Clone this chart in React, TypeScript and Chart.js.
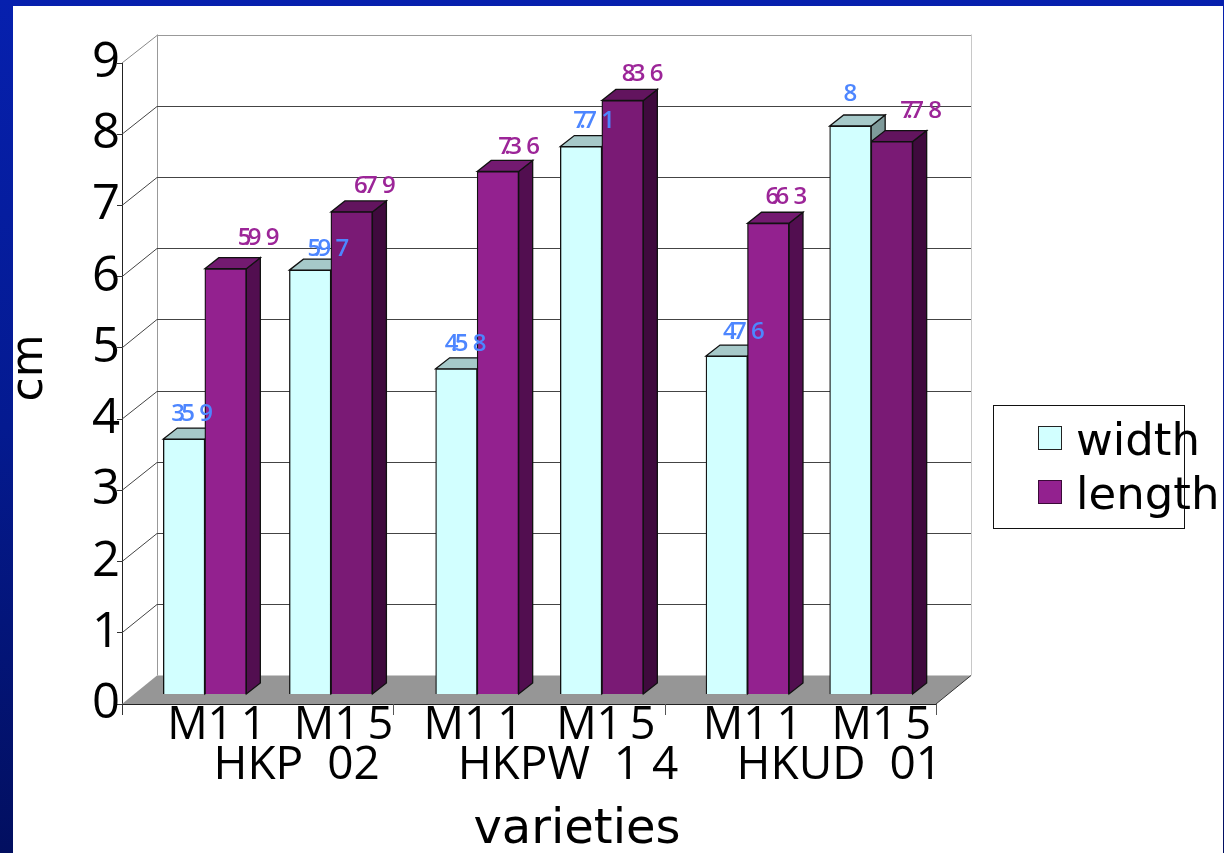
import React, { useEffect, useRef } from "react";
import { Chart, registerables } from "chart.js";

Chart.register(...registerables);

const varieties = ["M1\u20091", "M1\u20095", "M1\u20091", "M1\u20095", "M1\u20091", "M1\u20095"];
const groups = ["HKP  02", "HKPW  1 4", "HKUD  01"];
const widthValues = [3.59, 5.97, 4.58, 7.71, 4.76, 8];
const lengthValues = [5.99, 6.79, 7.36, 8.36, 6.63, 7.78];
const yTicks = [0, 1, 2, 3, 4, 5, 6, 7, 8, 9];

const FONT = '"Open Sans"';
const LOWER = '"DejaVu Sans"';
const DX = 35, DY = 28.5; // wall depth
const BDX = 14, BDY = 11; // bar depth
const barNudge = [15, 5.4, 16, 5, 15, 3];
const tickNudge = [27, 18, 12, 9, 20, 13];
const labelOff = [
  [[8, -25], [18, -21], [9, -25], [13, -25], [17, -24], [0, -32]],
  [[33, -31], [23, -26], [21, -24], [20, -26], [18, -26], [29, -30]],
];
const fronts = [
  ["#D2FFFF", "#D2FFFF", "#D2FFFF", "#D2FFFF", "#D2FFFF", "#D2FFFF"],
  ["#93218F", "#7A1A75", "#93218F", "#7A1A75", "#93218F", "#7A1A75"],
];
const tops = [
  ["#A6C9C9", "#A6C9C9", "#A6C9C9", "#A6C9C9", "#A6C9C9", "#A6C9C9"],
  ["#731A70", "#62145E", "#731A70", "#62145E", "#731A70", "#62145E"],
];
const sides = [
  ["#7E9A9A", "#7E9A9A", "#7E9A9A", "#7E9A9A", "#7E9A9A", "#7E9A9A"],
  ["#520E50", "#3F0A3D", "#520E50", "#3F0A3D", "#520E50", "#3F0A3D"],
];
const labelColors = ["#4D86FF", "#9C2598"];

function poly(ctx: CanvasRenderingContext2D, pts: number[][], fill?: string, stroke?: string) {
  ctx.beginPath();
  pts.forEach((p, i) => (i ? ctx.lineTo(p[0], p[1]) : ctx.moveTo(p[0], p[1])));
  ctx.closePath();
  if (fill) { ctx.fillStyle = fill; ctx.fill(); }
  if (stroke) { ctx.strokeStyle = stroke; ctx.lineWidth = 1.3; ctx.stroke(); }
}
function line(ctx: CanvasRenderingContext2D, x1: number, y1: number, x2: number, y2: number, c: string) {
  ctx.beginPath(); ctx.moveTo(x1, y1); ctx.lineTo(x2, y2); ctx.strokeStyle = c; ctx.lineWidth = 1; ctx.stroke();
}

const scene = {
  id: "scene",
  afterDatasetsUpdate(chart: any) {
    chart.data.datasets.forEach((_: any, d: number) => {
      chart.getDatasetMeta(d).data.forEach((bar: any, i: number) => { bar.x += barNudge[i]; });
    });
  },
  beforeDatasetsDraw(chart: any) {
    const { ctx, chartArea: a, scales } = chart;
    const y = scales.y;
    ctx.save();
    // floor
    const y0 = y.getPixelForValue(0);
    poly(ctx, [[a.left, y0], [a.left + DX, y0 - DY], [a.right + DX, y0 - DY], [a.right, y0]], "#969696");
    // back wall and grid
    const top = y.getPixelForValue(9) - DY;
    line(ctx, a.left + DX + 0.5, top, a.left + DX + 0.5, y0 - DY, "#999");
    line(ctx, a.right + DX + 0.5, top, a.right + DX + 0.5, y0 - DY, "#c8c8c8");
    yTicks.slice(1).forEach((v) => {
      const py = y.getPixelForValue(v);
      const back = Math.round(py - DY) + 0.5;
      line(ctx, a.left + DX, back, a.right + DX, back, v === 9 ? "#999" : "#444");
      line(ctx, a.left, py, a.left + DX, back, v === 9 ? "#888" : "#444");
    });
    line(ctx, a.right, y0, a.right + DX, y0 - DY, "#333");
    line(ctx, a.left, y0 + 0.5, a.right, y0 + 0.5, "#222");
    // group separators
    for (let g = 0; g <= groups.length; g++) {
      const x = Math.round(a.left + ((a.right - a.left) * g) / groups.length) + 0.5;
      line(ctx, x, y0, x, y0 + 11, g === 0 ? "#333" : "#555");
    }
    // bar depth faces
    chart.data.datasets.forEach((_: any, d: number) => {
      chart.getDatasetMeta(d).data.forEach((bar: any, i: number) => {
        const l = bar.x - bar.width / 2, r = bar.x + bar.width / 2;
        const t = bar.y, b = bar.base;
        poly(ctx, [[r, t], [r + BDX, t - BDY], [r + BDX, b - BDY], [r, b]], sides[d][i], "#111");
        poly(ctx, [[l, t], [l + BDX, t - BDY], [r + BDX, t - BDY], [r, t]], tops[d][i], "#111");
      });
    });
    ctx.restore();
  },
  afterDatasetsDraw(chart: any) {
    const { ctx } = chart;
    ctx.save();
    ctx.textBaseline = "middle";
    ctx.textAlign = "left";
    ctx.font = `600 24px ${FONT}`;
    chart.data.datasets.forEach((ds: any, d: number) => {
      ctx.fillStyle = labelColors[d];
      chart.getDatasetMeta(d).data.forEach((bar: any, i: number) => {
        const text = String(ds.data[i]);
        const x = bar.x - bar.width / 2 + labelOff[d][i][0];
        const yy = bar.y + labelOff[d][i][1];
        if (text.length === 1) {
          ctx.textAlign = "center";
          ctx.fillText(text, x + bar.width / 2, yy);
          ctx.textAlign = "left";
          return;
        }
        const offs = [0, 6, 10, 28];
        text.split("").forEach((ch, k) => ctx.fillText(ch, x + offs[k], yy));
      });
    });
    ctx.restore();

    // axis titles
    ctx.save();
    ctx.fillStyle = "#000";
    ctx.font = `48px ${LOWER}`;
    ctx.textAlign = "center";
    ctx.textBaseline = "alphabetic";
    ctx.fillText("varieties", 577, 843);
    ctx.translate(42, 368);
    ctx.rotate(-Math.PI / 2);
    ctx.font = `44px ${LOWER}`;
    ctx.fillText("cm", 0, 0);
    ctx.restore();

    // legend
    ctx.save();
    ctx.strokeStyle = "#111";
    ctx.lineWidth = 1;
    ctx.strokeRect(993.5, 405.5, 191, 123);
    const rows = [[426, 455], [480, 509]];
    ctx.font = `45px ${LOWER}`;
    ctx.textAlign = "left";
    ctx.textBaseline = "alphabetic";
    chart.data.datasets.forEach((ds: any, d: number) => {
      ctx.fillStyle = fronts[d][0];
      ctx.strokeStyle = d ? "#3a0a38" : "#222";
      ctx.fillRect(1038, rows[d][0], 23, 23);
      ctx.strokeRect(1038.5, rows[d][0] + 0.5, 23, 23);
      ctx.fillStyle = "#000";
      ctx.fillText(ds.label, 1076, rows[d][1]);
    });
    ctx.restore();
  },
};

export default function App() {
  const ref = useRef<HTMLCanvasElement>(null);
  useEffect(() => {
    document.body.style.margin = "0";
    const chart = new Chart(ref.current!, {
      type: "bar",
      data: {
        labels: varieties,
        datasets: [
          { label: "width", data: widthValues, yAxisID: "yBar", xAxisID: "x", backgroundColor: fronts[0], borderColor: "#111", borderWidth: 1.3, barThickness: 41.5 },
          { label: "length", data: lengthValues, yAxisID: "yBar", xAxisID: "x", backgroundColor: fronts[1], borderColor: "#111", borderWidth: 1.3, barThickness: 41.5 },
        ],
      },
      options: {
        animation: false,
        responsive: false,
        devicePixelRatio: 1,
        layout: { padding: { left: 0, right: 288, top: 63, bottom: 0 } },
        plugins: { legend: { display: false }, tooltip: { enabled: false } },
        scales: {
          y: {
            position: "left",
            min: 0,
            max: 9,
            afterFit: (s: any) => { s.width = 122; },
            ticks: { stepSize: 1, color: "#000", padding: -3, font: { family: FONT, size: 49, weight: 500 }, callback: (v: any) => String(v) },
            grid: { drawOnChartArea: false, tickLength: 5, color: "#333" },
            border: { display: true, color: "#222" },
          },
          yBar: {
            position: "left",
            display: false,
            min: -10 / 71,
            max: 8.887,
          },
          x: {
            position: "bottom",
            weight: 0,
            afterFit: (s: any) => { s.height = 38; },
            afterDataLimits: (s: any) => {
              const orig = s.getPixelForTick.bind(s);
              s.getPixelForTick = (i: number) => orig(i) + (tickNudge[i] || 0);
            },
            grid: { display: false, drawTicks: false, tickLength: 0 },
            border: { display: false },
            ticks: { color: "#000", padding: -5, maxRotation: 0, autoSkip: false, font: { family: FONT, size: 45, weight: 500 } },
          },
          x2: {
            type: "category",
            labels: groups,
            position: "bottom",
            weight: 1,
            afterFit: (s: any) => { s.height = 111; },
            grid: { display: false, drawTicks: false, tickLength: 0 },
            border: { display: false },
            ticks: { color: "#000", padding: -4, labelOffset: 39, maxRotation: 0, autoSkip: false, font: { family: FONT, size: 46, weight: 500 } },
          },
        },
      } as any,
      plugins: [scene],
    });
    return () => chart.destroy();
  }, []);
  return (
    <div style={{ position: "fixed", left: 0, top: 0, width: 1224, height: 853, overflow: "hidden", background: "linear-gradient(180deg,#0620AE 0%,#041A90 50%,#020F60 100%)" }}>
      <div style={{ position: "absolute", left: 13, top: 6, width: 1210, height: 847, background: "#fff" }} />
      <canvas ref={ref} width={1224} height={853} style={{ position: "absolute", left: 0, top: 0, display: "block" }} />
    </div>
  );
}
